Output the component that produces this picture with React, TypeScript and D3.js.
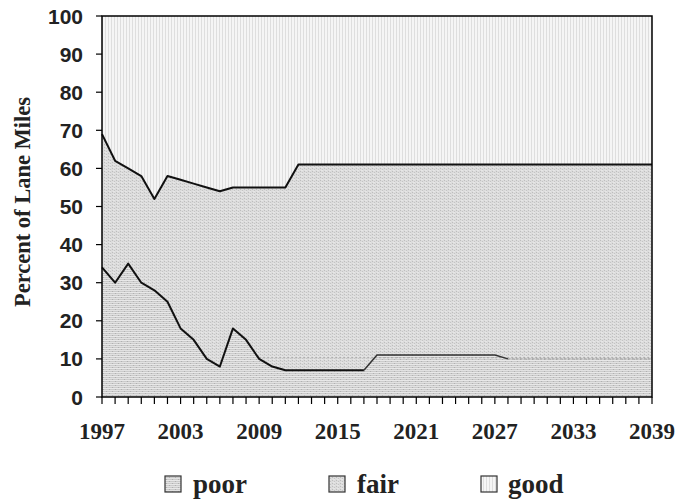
import React from "react";
import * as d3 from "d3";

const years = [
  1997, 1998, 1999, 2000, 2001, 2002, 2003, 2004, 2005, 2006, 2007, 2008, 2009, 2010, 2011,
  2012, 2013, 2014, 2015, 2016, 2017, 2018, 2019, 2020, 2021, 2022, 2023, 2024, 2025, 2026,
  2027, 2028, 2029, 2030, 2031, 2032, 2033, 2034, 2035, 2036, 2037, 2038, 2039,
];
const poor = [
  34, 30, 35, 30, 28, 25, 18, 15, 10, 8, 18, 15, 10, 8, 7,
  7, 7, 7, 7, 7, 7, 11, 11, 11, 11, 11, 11, 11, 11, 11,
  11, 10, 10, 10, 10, 10, 10, 10, 10, 10, 10, 10, 10,
];
const fair = [
  35, 32, 25, 28, 24, 33, 39, 41, 45, 46, 37, 40, 45, 47, 48,
  54, 54, 54, 54, 54, 54, 50, 50, 50, 50, 50, 50, 50, 50, 50,
  50, 51, 51, 51, 51, 51, 51, 51, 51, 51, 51, 51, 51,
];
const good = [
  31, 38, 40, 42, 48, 42, 43, 44, 45, 46, 45, 45, 45, 45, 45,
  39, 39, 39, 39, 39, 39, 39, 39, 39, 39, 39, 39, 39, 39, 39,
  39, 39, 39, 39, 39, 39, 39, 39, 39, 39, 39, 39, 39,
];
const yTicks = [0, 10, 20, 30, 40, 50, 60, 70, 80, 90, 100];
const xLabels = [1997, 2003, 2009, 2015, 2021, 2027, 2033, 2039];
const seriesNames = ["poor", "fair", "good"];

const W = 677;
const H = 501;
const M = { left: 102, right: 652, top: 16, bottom: 397 };

export default function App() {
  const x = d3.scaleLinear().domain([years[0], years[years.length - 1]]).range([M.left, M.right]);
  const y = d3.scaleLinear().domain([0, 100]).range([M.bottom, M.top]);

  const rows = years.map((yr, i) => ({ year: yr, poor: poor[i], fair: fair[i], good: good[i] }));
  const stack = d3.stack<any>().keys(seriesNames)(rows);

  const area = d3
    .area<any>()
    .x((d) => x(d.data.year))
    .y0((d) => y(d[0]))
    .y1((d) => y(d[1]));

  const fills = ["url(#pPoor)", "url(#pFair)", "url(#pGood)"];

  const lineGen = d3
    .line<any>()
    .x((d) => x(d.year))
    .y((d) => y(d.v));

  const poorPts = rows.map((r) => ({ year: r.year, v: r.poor }));
  const topPts = rows.map((r) => ({ year: r.year, v: r.poor + r.fair }));
  const poorA = poorPts.filter((p) => p.year <= 2017);
  const poorB = poorPts.filter((p) => p.year >= 2017 && p.year <= 2028);
  const poorC = poorPts.filter((p) => p.year >= 2028);

  const legendItems = [
    { name: "poor", sx: 165, tx: 193, fill: "url(#pPoor)" },
    { name: "fair", sx: 329, tx: 357, fill: "url(#pFair)" },
    { name: "good", sx: 481, tx: 508, fill: "url(#pGood)" },
  ];

  return (
    <svg
      width={W}
      height={H}
      style={{ position: "absolute", left: 0, top: 0, background: "#ffffff" }}
    >
      <defs>
        <pattern id="pGood" width="3" height="3" patternUnits="userSpaceOnUse">
          <rect width="3" height="3" fill="#f5f5f5" />
          <rect x="0" width="1" height="3" fill="#dedede" />
        </pattern>
        <pattern id="pFair" width="4" height="3" patternUnits="userSpaceOnUse">
          <rect width="4" height="3" fill="#dcdcdc" />
          <rect x="0" y="0" width="1" height="1" fill="#bdbdbd" />
          <rect x="2" y="1" width="1" height="1" fill="#c4c4c4" />
          <rect x="1" y="2" width="2" height="1" fill="#e6e6e6" />
        </pattern>
        <pattern id="pPoor" width="6" height="4" patternUnits="userSpaceOnUse">
          <rect width="6" height="4" fill="#cbcbcb" />
          <rect x="0" y="0" width="6" height="1" fill="#e8e8e8" />
          <rect x="0" y="2" width="6" height="1" fill="#e2e2e2" />
          <rect x="1" y="1" width="1" height="1" fill="#b0b0b0" />
          <rect x="4" y="3" width="1" height="1" fill="#b0b0b0" />
        </pattern>
      </defs>

      {stack.map((s, i) => (
        <path key={s.key} d={area(s as any) || ""} fill={fills[i]} stroke="none" />
      ))}

      {/* faint dotted reference at 10 */}
      <path
        d={lineGen(poorPts.filter((p) => p.year >= 2009).map((p) => ({ year: p.year, v: 10.3 }))) || ""}
        fill="none"
        stroke="#a8a8a8"
        strokeWidth={1}
        strokeDasharray="2,2"
      />

      {/* boundary lines */}
      <path d={lineGen(topPts) || ""} fill="none" stroke="#111" strokeWidth={2} strokeLinejoin="round" />
      <path d={lineGen(poorA) || ""} fill="none" stroke="#111" strokeWidth={2} strokeLinejoin="round" />
      <path d={lineGen(poorB) || ""} fill="none" stroke="#333" strokeWidth={1.5} strokeLinejoin="round" />
      <path d={lineGen(poorC) || ""} fill="none" stroke="#9a9a9a" strokeWidth={1} strokeDasharray="2,2" />

      {/* plot border */}
      <rect
        x={M.left}
        y={M.top}
        width={M.right - M.left}
        height={M.bottom - M.top}
        fill="none"
        stroke="#000"
        strokeWidth={1.5}
      />

      {/* y ticks */}
      {yTicks.map((t) => (
        <g key={t}>
          <line x1={M.left - 6} x2={M.left} y1={y(t)} y2={y(t)} stroke="#000" strokeWidth={1.2} />
          <text
            x={83}
            y={y(t)}
            dy="0.36em"
            textAnchor="end"
            fontFamily="'Liberation Sans', Arial, sans-serif"
            fontWeight="bold"
            fontSize={21}
            fill="#222"
          >
            {t}
          </text>
        </g>
      ))}

      {/* x ticks */}
      {years.map((yr) => (
        <line key={yr} x1={x(yr)} x2={x(yr)} y1={M.bottom} y2={M.bottom + 7} stroke="#000" strokeWidth={1.2} />
      ))}
      {xLabels.map((yr) => (
        <text
          key={yr}
          x={x(yr)}
          y={M.bottom + 42}
          textAnchor="middle"
          fontFamily="'Liberation Serif', 'Times New Roman', serif"
          fontWeight="bold"
          fontSize={23}
          fill="#222"
        >
          {yr}
        </text>
      ))}

      {/* y title */}
      <text
        transform={`translate(22, 202) rotate(-90)`}
        textAnchor="middle"
        dy="0.35em"
        fontFamily="'Liberation Serif', 'Times New Roman', serif"
        fontWeight="bold"
        fontSize={22.5}
        fill="#222"
      >
        Percent of Lane Miles
      </text>

      {/* legend */}
      {legendItems.map((it) => (
        <g key={it.name}>
          <rect x={it.sx} y={476} width={16} height={16} fill={it.fill} stroke="#333" strokeWidth={1.2} />
          <text
            x={it.tx}
            y={493}
            fontFamily="'Liberation Serif', 'Times New Roman', serif"
            fontWeight="bold"
            fontSize={27}
            fill="#222"
          >
            {it.name}
          </text>
        </g>
      ))}
    </svg>
  );
}
